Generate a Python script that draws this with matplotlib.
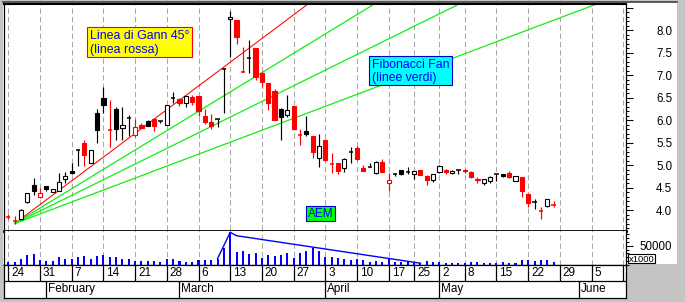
import numpy as np
import pandas as pd
import matplotlib
matplotlib.use('Agg')
import matplotlib.pyplot as plt
from matplotlib.patches import Rectangle
from matplotlib.ticker import MultipleLocator, FixedLocator, FuncFormatter

plt.rcParams['font.family'] = ['Liberation Sans', 'DejaVu Sans']

# trading calendar (Borsa Italiana closed Apr 21, Apr 24, May 1)
start_date = '2000-01-24'
end_date = '2000-06-12'
holidays = ['2000-04-21', '2000-04-24', '2000-05-01']
month_names = ['February', 'March', 'April', 'May', 'June']

# daily candles, AEM
opens = [3.85, 3.76, 3.79, 4.17, 4.55, 4.30, 4.53, 4.41, 4.43, 4.70,
         4.86, 5.33, 5.48, 5.04, 6.15, 6.49, 5.77, 6.24, 5.82, 6.04,
         5.67, 5.90, 5.97, 6.03, 5.97, 5.90, 6.50, 6.46, 6.38, 6.52,
         6.53, 6.10, 5.96, 6.02, 7.13, 8.24, 8.22, 7.07, 7.38, 7.60,
         7.05, 6.83, 6.65, 6.24, 6.12, 6.31, 5.67, 5.75, 5.64, 5.16,
         5.56, 5.02, 5.04, 4.93, 5.29, 5.38, 4.93, 4.95, 4.83, 5.07,
         4.59, 4.81, 4.88, 4.84, 4.79, 4.89, 4.76, 4.67, 4.85, 4.89,
         4.82, 4.90, 4.90, 4.84, 4.69, 4.59, 4.64, 4.80, 4.79, 4.83,
         4.65, 4.73, 4.36, 4.18, 3.98, 4.09, 4.12]
highs = [3.91, 3.87, 4.02, 4.38, 4.71, 4.49, 4.53, 4.46, 4.82, 4.84,
         5.04, 5.35, 5.56, 5.33, 6.24, 6.73, 6.44, 6.30, 6.28, 6.11,
         6.03, 5.93, 5.99, 6.05, 5.98, 6.33, 6.62, 6.50, 6.53, 6.56,
         6.53, 6.25, 6.13, 6.03, 7.15, 8.43, 8.22, 7.62, 7.78, 7.60,
         7.07, 6.83, 6.70, 6.27, 6.55, 6.31, 5.79, 6.09, 5.65, 5.70,
         5.58, 5.26, 5.04, 5.16, 5.41, 5.42, 4.99, 5.05, 5.09, 5.13,
         4.83, 4.83, 4.89, 4.95, 4.87, 4.89, 4.77, 4.80, 4.99, 4.91,
         4.89, 4.91, 4.92, 4.86, 4.74, 4.70, 4.76, 4.81, 4.81, 4.86,
         4.76, 4.73, 4.36, 4.24, 4.06, 4.24, 4.20]
lows = [3.79, 3.70, 3.78, 4.15, 4.33, 4.27, 4.43, 4.40, 4.43, 4.61,
        4.81, 4.98, 4.98, 5.04, 5.50, 6.15, 5.39, 5.56, 5.56, 5.64,
        5.63, 5.82, 5.86, 5.76, 5.93, 5.90, 6.37, 6.31, 6.30, 6.33,
        6.10, 5.92, 5.79, 5.84, 6.16, 7.41, 7.70, 7.07, 7.05, 6.89,
        6.73, 6.22, 5.99, 5.56, 6.06, 5.80, 5.45, 5.64, 5.16, 4.96,
        5.09, 4.82, 4.79, 4.85, 5.05, 5.12, 4.87, 4.95, 4.81, 4.85,
        4.42, 4.76, 4.78, 4.80, 4.68, 4.77, 4.56, 4.63, 4.82, 4.79,
        4.80, 4.79, 4.83, 4.71, 4.61, 4.55, 4.61, 4.65, 4.74, 4.71,
        4.65, 4.30, 4.07, 4.03, 3.81, 4.07, 4.07]
closes = [3.85, 3.76, 4.01, 4.37, 4.43, 4.38, 4.46, 4.46, 4.62, 4.76,
          4.83, 5.33, 5.23, 5.33, 5.78, 6.34, 5.77, 5.81, 5.88, 6.04,
          5.84, 5.83, 5.87, 5.86, 5.95, 6.33, 6.50, 6.37, 6.53, 6.40,
          6.21, 5.96, 5.87, 6.02, 7.13, 8.28, 7.85, 7.07, 7.38, 6.95,
          6.84, 6.38, 6.00, 6.06, 6.22, 5.81, 5.67, 5.68, 5.29, 5.42,
          5.11, 5.02, 4.86, 5.14, 5.29, 5.13, 4.87, 4.95, 5.07, 4.85,
          4.67, 4.79, 4.80, 4.84, 4.86, 4.77, 4.67, 4.80, 4.98, 4.84,
          4.87, 4.90, 4.86, 4.73, 4.66, 4.70, 4.73, 4.80, 4.76, 4.73,
          4.76, 4.42, 4.15, 4.18, 3.98, 4.24, 4.12]
# r = close below previous close, k = otherwise
colors = ['r', 'r', 'k', 'k', 'k', 'r', 'k', 'k', 'k', 'k',
          'k', 'k', 'r', 'k', 'k', 'k', 'r', 'k', 'k', 'k',
          'r', 'r', 'k', 'r', 'k', 'k', 'k', 'r', 'k', 'r',
          'r', 'r', 'r', 'k', 'k', 'k', 'r', 'r', 'k', 'r',
          'r', 'r', 'r', 'k', 'k', 'r', 'r', 'k', 'r', 'k',
          'r', 'r', 'r', 'k', 'k', 'r', 'r', 'k', 'k', 'r',
          'r', 'k', 'k', 'k', 'k', 'r', 'r', 'k', 'k', 'r',
          'k', 'k', 'r', 'r', 'r', 'k', 'k', 'k', 'k', 'r',
          'k', 'r', 'r', 'k', 'r', 'k', 'r']
# volume, x1000
volumes = [8600, 8600, 16400, 26800, 29300, 13800, 11200, 11200, 21600, 16400,
           16400, 20700, 24200, 16400, 24200, 26800, 21600, 21600, 16400, 16400,
           11200, 11200, 11200, 11200, 8600, 16400, 16400, 11200, 8600, 8600,
           13800, 13800, 13800, 16400, 44900, 84600, 34500, 37100, 29300, 31900,
           19000, 26800, 24200, 26800, 31900, 19000, 31900, 37100, 44900, 37100,
           21600, 21600, 19000, 16400, 13800, 16400, 13800, 8600, 11200, 8600,
           16400, 8600, 8600, 8600, 6000, 6000, 11200, 8600, 8600, 6000,
           6000, 6000, 6000, 8600, 8600, 6000, 6000, 6000, 8600, 6000,
           6000, 13800, 13800, 11200, 13800, 13800, 8600]

# Gann 45 line and Fibonacci fan, both from the low of day 1
fan_origin = 1
fan_peak = 35
gann_slope = 0.1054
fib_ratios = [0.382, 0.5, 0.618]

# volume trend line (day index, volume)
vol_line_x = [33, 35, 36, 65]
vol_line_y = [16400, 84600, 75900, 4600]

days = pd.bdate_range(start_date, end_date)
days = days[~days.isin(pd.to_datetime(holidays))]
wk = days.isocalendar().week.values
week_pos = [0] + [i for i in range(1, len(days)) if wk[i] != wk[i - 1]]
month_pos = [i for i in range(1, len(days)) if days[i].month != days[i - 1].month]

W, H = 685, 302
fig = plt.figure(figsize=(W / 100, H / 100), dpi=100)
fig.patch.set_facecolor('#c4c4c4')


def box(x0, y0, x1, y1):
    # pixel box, origin top-left -> figure fraction
    return [x0 / W, 1 - y1 / H, (x1 - x0) / W, (y1 - y0) / H]


def fig_rect(x0, y0, x1, y1, fc, ec, z=5):
    r = Rectangle((x0 / W, 1 - y1 / H), (x1 - x0) / W, (y1 - y0) / H,
                  transform=fig.transFigure, fc=fc, ec=ec, lw=0.8, zorder=z)
    fig.add_artist(r)


def fig_text(x, y, s, size, color='#0000ff', ha='left'):
    fig.text(x / W, 1 - y / H, s, fontsize=size, color=color, ha=ha,
             va='baseline', zorder=6)


fig_rect(3, 1.5, 677, 263.5, 'white', 'none', z=-1)
fig.add_artist(plt.Line2D([3 / W, 677 / W], [1 - 1.5 / H] * 2, color='#404040',
                          lw=1.2, transform=fig.transFigure, zorder=-1))

xlim = (-0.68, 97.43)
grid_kw = dict(colors='#a8a8a8', linestyles=(0, (5, 3)), lw=0.75, zorder=1)

# price panel
ax = fig.add_axes(box(4, 3.5, 626, 230.5))
ax.set_xlim(*xlim)
ax.set_ylim(3.545, 8.589)
ax.vlines(week_pos, 3.0, 9.0, **grid_kw)

w = 0.66
for i in range(len(opens)):
    o, h, l, c = opens[i], highs[i], lows[i], closes[i]
    col = '#ff0000' if colors[i] == 'r' else 'black'
    ax.vlines(i, l, h, color=col, lw=0.85, zorder=3)
    if abs(c - o) < 0.02:
        ax.hlines(o, i - w / 2, i + w / 2, color=col, lw=1.1, zorder=4)
    else:
        fc = 'white' if c > o else col
        ax.add_patch(Rectangle((i - w / 2, min(o, c)), w, abs(c - o),
                               fc=fc, ec=col, lw=0.8, zorder=4))

low0 = lows[fan_origin]
high0 = highs[fan_peak]
t = np.array([fan_origin, 98.0])
ax.plot(t, low0 + gann_slope * (t - fan_origin), color='#ff0000', lw=0.75, zorder=2)
for r in fib_ratios:
    ax.plot(t, low0 + r * (high0 - low0) * (t - fan_origin) / (fan_peak - fan_origin),
            color='#11ee11', lw=0.9, zorder=2)

ax.set_xticks([])
ax.yaxis.tick_right()
ax.yaxis.set_major_locator(MultipleLocator(0.5))
ax.yaxis.set_minor_locator(MultipleLocator(0.1))
ax.yaxis.set_major_formatter(FuncFormatter(lambda v, p: f'{v:.1f}' if 3.99 < v < 8.01 else ''))
ax.tick_params(axis='y', which='major', length=5, width=0.75, pad=28.2, labelsize=8.3)
ax.tick_params(axis='y', which='minor', length=2.5, width=0.75)
for tl in ax.get_yticklabels():
    tl.set_horizontalalignment('right')
ax.spines['top'].set_linewidth(1.5)
ax.spines['bottom'].set_linewidth(2)
for s in ['left', 'right']:
    ax.spines[s].set_linewidth(0.9)

# volume panel
av = fig.add_axes(box(4, 230.5, 626, 265))
av.set_xlim(*xlim)
av.set_ylim(0, 89400)
av.vlines(week_pos, 0, 90000, **grid_kw)
av.bar(range(len(volumes)), volumes, width=0.32, color='#0000ff', zorder=3)
av.plot(vol_line_x, vol_line_y, color='#0000ff', lw=1.0, zorder=4)
av.set_xticks([])
av.yaxis.tick_right()
av.yaxis.set_major_locator(FixedLocator([50000]))
av.yaxis.set_minor_locator(MultipleLocator(10000))
av.yaxis.set_major_formatter(FuncFormatter(lambda v, p: f'{v:.0f}'))
av.tick_params(axis='y', which='major', length=5, width=0.75, pad=28.2, labelsize=8.3)
av.tick_params(axis='y', which='minor', length=2.5, width=0.75)
for tl in av.get_yticklabels():
    tl.set_horizontalalignment('right')
av.spines['top'].set_visible(False)
for s in ['left', 'right', 'bottom']:
    av.spines[s].set_linewidth(0.9)

# date rows
ad = fig.add_axes(box(4, 265, 626, 297.5))
ad.set_xlim(*xlim)
ad.set_ylim(0, 2)
ad.set_xticks([])
ad.set_yticks([])
ad.axhline(1, color='black', lw=0.9)
ad.vlines(week_pos, 1, 2, color='black', lw=0.9)
ad.vlines(month_pos, 0, 1, color='black', lw=0.9)
for p in week_pos[:-1]:
    ad.annotate(str(days[p].day), (p, 1.5), xytext=(3, 0), textcoords='offset pixels',
                ha='left', va='center', fontsize=8.5)
for p, name in zip(month_pos, month_names):
    ad.annotate(name, (p, 0.5), xytext=(1.5, 0), textcoords='offset pixels',
                ha='left', va='center', fontsize=8.5)
for s in ad.spines.values():
    s.set_linewidth(0.9)

# labels
fig_rect(87.3, 27.3, 192, 56.7, '#ffff00', '#ff0000')
fig_text(90, 39.3, 'Linea di Gann 45°', 8.9)
fig_text(90, 53, '(linea rossa)', 8.9)
fig_rect(369.3, 56, 451.7, 85.3, '#00ffff', '#0000cc')
fig_text(372, 68.3, 'Fibonacci Fan', 8.8)
fig_text(372, 81.5, '(linee verdi)', 8.8)
fig_rect(306, 206, 335.3, 220.7, '#00ff00', '#0000cc')
fig_text(320.7, 217.3, 'AEM', 8.5, ha='center')
fig_rect(628.3, 254.3, 655, 263.3, 'white', 'black')
fig_text(641.7, 261.8, 'x1000', 6.8, color='black', ha='center')

fig.savefig('out.png', dpi=100, facecolor=fig.get_facecolor())
